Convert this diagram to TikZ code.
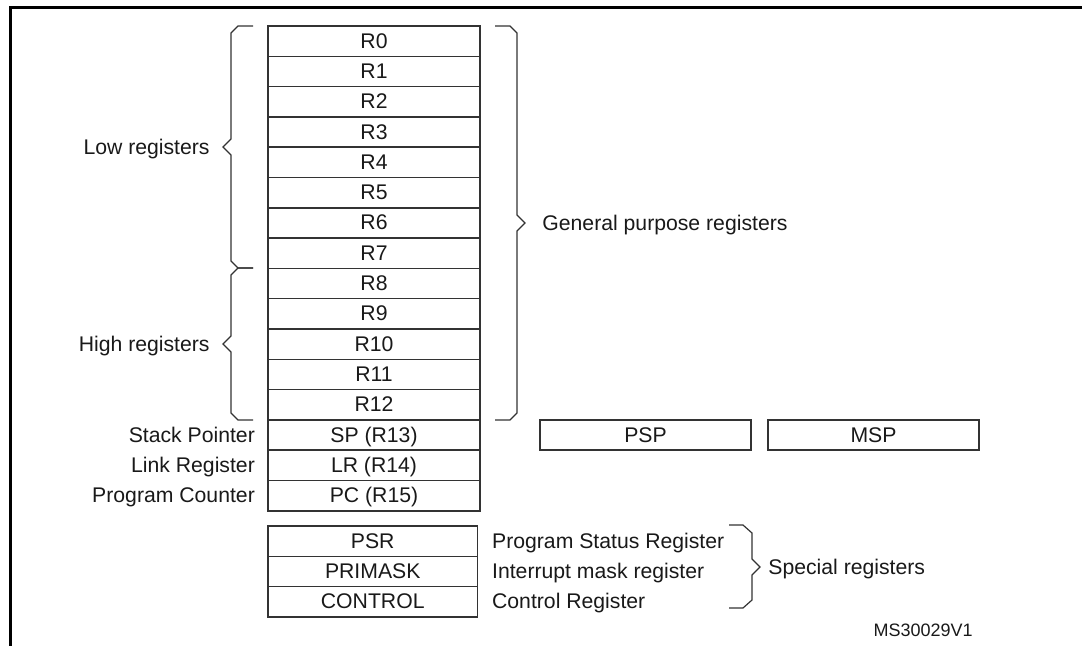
\documentclass[tikz,border=0pt]{standalone}
\usepackage{fontspec}
\setmainfont{Liberation Sans}
\usetikzlibrary{positioning}

\begin{document}
\begin{tikzpicture}[x=0.5pt, y=-0.5pt, font=\fontsize{10.6}{12.6}\selectfont]
        % Define styles
        \tikzstyle{register}=[rectangle, draw=black!80, line width=0.75pt, minimum width=106pt, minimum height=15.15pt, inner sep=0pt, text height=0.95em, text depth=0.25em, text=black!90]
        \tikzstyle{caption}=[inner sep=0pt, text height=0.95em, text depth=0.25em, text=black!90]
        \tikzstyle{brace}=[draw=black!80, line width=0.6pt]

        \useasboundingbox (0,0) rectangle (1082,645);

        % Outer frame
        \draw[line width=1.5pt] (10,660) -- (10,7) -- (1090,7);

        % Core registers
        \foreach \l [count=\y from 0] in {R0,R1,R2,R3,R4,R5,R6,R7,R8,R9,R10,R11,R12,SP (R13),LR (R14),PC (R15)}
            \node [register] (reg-\y) at (374,{41.15+30.3*\y}) {\l};

        % Names of SP, LR and PC
        \foreach \l [count=\y from 13] in {Stack Pointer,Link Register,Program Counter}
            \node [caption, left=6pt of reg-\y] (name-\y) {\l};

        % Banked stack pointers
        \node [register, minimum width=105.5pt] (psp) at (645.5,435) {PSP};
        \node [register, minimum width=105.5pt] (msp) at (873.5,435) {MSP};

        % Special registers
        \foreach \l/\d [count=\y from 0] in {PSR/Program Status Register,PRIMASK/Interrupt mask register,CONTROL/Control Register}
        {
            \node [register, minimum width=104.75pt] (spec-\y) at (372.75,{541.15+30.3*\y}) {\l};
            \node [caption, right=6.75pt of spec-\y] (desc-\y) {\d};
        }

        % Low registers brace
        \draw [brace] (253,26) -- (238,26) -- (231,33) -- (231,139) -- (223,147) -- (231,155) -- (231,261) -- (238,268) -- (253,268);
        \coordinate (low-tip) at (223,147);

        % High registers brace
        \draw [brace] (253,268) -- (238,268) -- (231,275) -- (231,336) -- (223,344) -- (231,352) -- (231,413) -- (238,420) -- (253,420);
        \coordinate (high-tip) at (223,344);

        % General purpose brace
        \draw [brace] (495,26) -- (510,26) -- (517,33) -- (517,215) -- (525,223) -- (517,231) -- (517,413) -- (510,420) -- (495,420);
        \coordinate (gpr-tip) at (525,223);

        % Special registers brace
        \draw [brace] (729,525) -- (743,525) -- (752,533) -- (752,559) -- (760,567) -- (752,575) -- (752,600) -- (743,608) -- (729,608);
        \coordinate (spec-tip) at (760,567);

        % Annotate braces
        \node [caption, left=6.5pt of low-tip] (low) {Low registers};
        \node [caption, left=6.5pt of high-tip] (high) {High registers};
        \node [caption, right=8.5pt of gpr-tip] (gpr) {General purpose registers};
        \node [caption, right=4pt of spec-tip] (special) {Special registers};

        % Figure reference
        \node [caption, anchor=east, font=\fontsize{9}{11}\selectfont] (ref) at (973,629) {MS30029V1};
    \end{tikzpicture}
\end{document}
